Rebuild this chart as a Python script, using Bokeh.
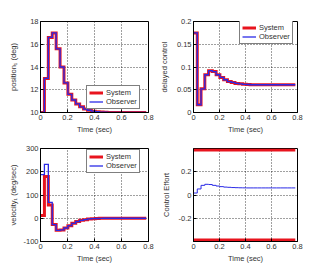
from bokeh.plotting import figure
from bokeh.layouts import gridplot
from bokeh.models import Range1d, FixedTicker, NumeralTickFormatter, Legend, LegendItem
from bokeh.embed import file_html
from bokeh.resources import INLINE

# ---- data ----
t = [0.000, 0.029, 0.058, 0.087, 0.116, 0.145, 0.174, 0.203, 0.232, 0.261,
     0.290, 0.319, 0.348, 0.377, 0.406, 0.435, 0.464, 0.493, 0.522, 0.551,
     0.580, 0.609, 0.638, 0.667, 0.696, 0.725, 0.754, 0.783]

pos_sys = [10, 13, 16.6, 17.0, 15.6, 14.0, 12.6, 11.6, 11.1, 10.75,
           10.5, 10.3, 10.2, 10.12, 10.07, 10.04, 10.02, 10.01, 10.0, 10.0,
           10.0, 10.0, 10.0, 10.0, 10.0, 10.0, 10.0, 10.0]
pos_obs = [10, 13, 16.6, 17.0, 15.6, 14.0, 12.6, 11.6, 11.1, 10.75,
           10.5, 10.3, 10.2, 10.12, 10.07, 10.04, 10.02, 10.01, 10.0, 10.0,
           10.0, 10.0, 10.0, 10.0, 10.0, 10.0, 10.0, 10.0]

del_sys = [0.175, 0.017, 0.052, 0.083, 0.092, 0.090, 0.083, 0.077, 0.072, 0.068,
           0.066, 0.064, 0.063, 0.062, 0.0615, 0.061, 0.061, 0.061, 0.061, 0.061,
           0.061, 0.061, 0.061, 0.061, 0.061, 0.061, 0.061, 0.061]
del_obs = [0.175, 0.017, 0.052, 0.083, 0.092, 0.090, 0.083, 0.077, 0.072, 0.068,
           0.066, 0.064, 0.063, 0.062, 0.0615, 0.061, 0.061, 0.061, 0.061, 0.061,
           0.061, 0.061, 0.061, 0.061, 0.061, 0.061, 0.061, 0.061]

vel_sys = [12, 180, 57, -27, -52, -50, -42, -32, -22, -14,
           -9, -6, -3, -2, -1, -0.5, 0, 0, 0, 0,
           0, 0, 0, 0, 0, 0, 0, 0]
vel_obs = [188, 232, 68, -27, -52, -50, -42, -32, -22, -14,
           -9, -6, -3, -2, -1, -0.5, 0, 0, 0, 0,
           0, 0, 0, 0, 0, 0, 0, 0]

control = [0.017, 0.052, 0.083, 0.092, 0.090, 0.083, 0.077, 0.072, 0.068, 0.066,
           0.064, 0.063, 0.062, 0.0615, 0.061, 0.061, 0.061, 0.061, 0.061, 0.061,
           0.061, 0.061, 0.061, 0.061, 0.061, 0.061, 0.061, 0.061]
u_max = 0.387
u_min = -0.387

x_ticks = [0, 0.2, 0.4, 0.6, 0.8]
pos_ticks = [10, 12, 14, 16, 18]
del_ticks = [0, 0.05, 0.1, 0.15, 0.2]
vel_ticks = [-100, 0, 100, 200, 300]
ctl_ticks = [-0.2, 0, 0.2]

FONT = "Liberation Sans"
FS = "7.5px"
RED = "#e8141e"
BLUE = "#2a2ae6"


def make_fig(w, h, ylim, yticks, ylabel, bl, br, bt, bb, ylabel_standoff):
    p = figure(width=w, height=h, x_range=Range1d(0, 0.8), y_range=Range1d(*ylim),
               output_backend="svg", toolbar_location=None,
               min_border_left=bl, min_border_right=br,
               min_border_top=bt, min_border_bottom=bb)
    p.background_fill_color = "white"
    p.border_fill_color = "white"
    p.outline_line_color = "black"
    p.outline_line_width = 1
    p.outline_line_alpha = 1
    p.xaxis.ticker = FixedTicker(ticks=x_ticks)
    p.yaxis.ticker = FixedTicker(ticks=yticks)
    p.xgrid.ticker = FixedTicker(ticks=x_ticks)
    p.ygrid.ticker = FixedTicker(ticks=yticks)
    p.xaxis.axis_label = "Time (sec)"
    p.yaxis.axis_label = ylabel
    for ax in (p.xaxis[0], p.yaxis[0]):
        ax.formatter = NumeralTickFormatter(format="0.[00]")
        ax.major_tick_in = 3
        ax.major_tick_out = 0
        ax.minor_tick_line_color = None
        ax.axis_line_color = "black"
        ax.major_tick_line_color = "black"
        ax.major_label_text_font = FONT
        ax.major_label_text_font_size = FS
        ax.major_label_text_color = "#333333"
        ax.axis_label_text_font = FONT
        ax.axis_label_text_font_size = FS
        ax.axis_label_text_font_style = "normal"
        ax.axis_label_text_color = "#333333"
        ax.major_label_standoff = 2
        ax.axis_label_standoff = 2
    p.yaxis.axis_label_standoff = ylabel_standoff
    p.grid.grid_line_color = "black"
    p.grid.grid_line_dash = "1 2"
    p.grid.grid_line_alpha = 0.75
    p.grid.grid_line_width = 1
    return p


def add_legend(p, r_sys, r_obs, loc):
    leg = Legend(items=[LegendItem(label="System", renderers=[r_sys]),
                        LegendItem(label="Observer", renderers=[r_obs])],
                 location=loc)
    leg.label_text_font = FONT
    leg.label_text_font_size = FS
    leg.label_text_color = "#333333"
    leg.glyph_width = 14
    leg.glyph_height = 9
    leg.label_height = 9
    leg.label_width = 10
    leg.spacing = 0
    leg.padding = 2
    leg.margin = 0
    leg.label_standoff = 3
    leg.border_line_color = "black"
    leg.border_line_width = 1
    leg.background_fill_alpha = 1
    p.add_layout(leg)


def steps(p, y, color, width):
    return p.step(t, y, mode="after", line_color=color, line_width=width,
                  line_join="miter", line_cap="butt")


LW, RW = 156, 171

p1 = make_fig(LW, 136, (10, 18), pos_ticks, "position\u2081 (deg)", 40, 8, 21, 22, 9)
r1 = steps(p1, pos_sys, RED, 3)
r2 = steps(p1, pos_obs, BLUE, 1.3)
add_legend(p1, r1, r2, (46, 3))

p2 = make_fig(RW, 136, (0, 0.2), del_ticks, "delayed control", 32, 30, 21, 22, 5)
r3 = steps(p2, del_sys, RED, 3)
r4 = steps(p2, del_obs, BLUE, 1.3)
add_legend(p2, r3, r4, (46, 68))

p3 = make_fig(LW, 130, (-100, 300), vel_ticks, "velocity\u2081 (deg/sec)", 40, 8, 12, 25, 2)
r5 = steps(p3, vel_sys, RED, 3)
r6 = steps(p3, vel_obs, BLUE, 1.3)
add_legend(p3, r5, r6, (46, 68))

p4 = make_fig(RW, 130, (-0.4, 0.4), ctl_ticks, "Control Effort", 32, 30, 12, 25, 5)
p4.line([t[0], t[-1]], [u_max, u_max], line_color=RED, line_width=3)
p4.line([t[0], t[-1]], [u_min, u_min], line_color=RED, line_width=3)
steps(p4, control, BLUE, 1)

grid = gridplot([[p1, p2], [p3, p4]], toolbar_location=None)

open("out.html", "w").write(file_html(grid, INLINE))
